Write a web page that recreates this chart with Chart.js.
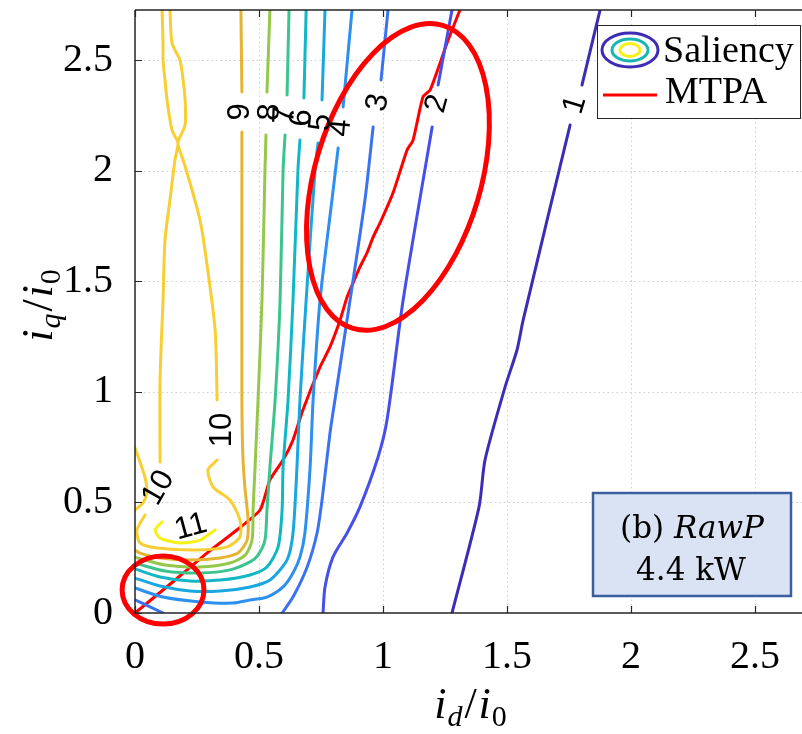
<!DOCTYPE html>
<html>
<head>
<meta charset="utf-8">
<script src="https://cdn.jsdelivr.net/npm/chart.js@4.4.0/dist/chart.umd.min.js"></script>
<style>
  html, body { margin: 0; padding: 0; background: #fff; }
  canvas { display: block; }
</style>
</head>
<body>
<canvas id="salChart" width="802" height="734"></canvas>
<script>
// axis ticks
const xTicks = [0, 0.5, 1, 1.5, 2, 2.5];
const yTicks = [0, 0.5, 1, 1.5, 2, 2.5];

// saliency contour levels (null = gap for a label)
const level1X = [1.278, 1.387, 1.411, 1.492, 1.540, 1.565, 1.754, null, 1.802, 1.875];
const level1Y = [0, 0.48, 0.692, 1.023, 1.19, 1.326, 2.208, null, 2.389, 2.729];

const level2X = [0.758, 0.766, 0.798, 0.855, 0.907, 0.980, 1.016, 1.081, 1.198, null, 1.222, 1.278];
const level2Y = [0, 0.118, 0.253, 0.362, 0.480, 0.706, 0.873, 1.416, 2.199, null, 2.389, 2.729];

const level3X = [1.020, 0.992, null, 0.960, 0.927, 0.867, 0.806, 0.786, 0.754, 0.734, 0.694, 0.637, 0.593];
const level3Y = [2.729, 2.412, null, 2.199, 1.869, 1.416, 0.964, 0.814, 0.511, 0.362, 0.208, 0.072, 0];
const level3bX = [0, 0.113];
const level3bY = [0.059, 0];

const level4X = [0.875, 0.839, null, 0.819, 0.794, 0.746, 0.718, 0.706, 0.685, 0.665, 0.637, 0.597, 0.532, 0.464, 0.395, 0.262, 0.113, 0];
const level4Y = [2.729, 2.290, null, 2.104, 1.869, 1.416, 0.964, 0.661, 0.362, 0.253, 0.181, 0.118, 0.072, 0.059, 0.045, 0.050, 0.072, 0.113];

const level5X = [0.766, 0.754, null, 0.738, 0.726, 0.690, 0.665, 0.653, 0.637, 0.613, 0.544, 0.464, 0.343, 0.222, 0.101, 0];
const level5Y = [2.729, 2.321, null, 2.127, 2.005, 1.416, 0.964, 0.661, 0.362, 0.240, 0.149, 0.118, 0.100, 0.100, 0.122, 0.158];

const level6X = [0.690, 0.681, null, 0.665, 0.657, 0.637, 0.617, 0.597, 0.593, 0.577, 0.532, 0.464, 0.343, 0.222, 0.101, 0];
const level6Y = [2.729, 2.330, null, 2.140, 2.005, 1.416, 0.964, 0.661, 0.466, 0.299, 0.208, 0.172, 0.149, 0.145, 0.163, 0.199];

const level7X = [0.621, 0.613, null, 0.605, 0.597, 0.585, 0.565, 0.544, 0.532, 0.524, 0.496, 0.464, 0.383, 0.262, 0.121, 0];
const level7Y = [2.729, 2.344, null, 2.163, 2.005, 1.416, 0.964, 0.661, 0.466, 0.330, 0.262, 0.231, 0.195, 0.181, 0.190, 0.226];

const level8X = [0.544, 0.532, null, 0.528, 0.524, 0.512, 0.496, 0.484, 0.476, 0.472, 0.444, 0.383, 0.262, 0.121, 0];
const level8Y = [2.729, 2.357, null, 2.163, 2.005, 1.416, 0.964, 0.661, 0.466, 0.330, 0.262, 0.226, 0.208, 0.217, 0.253];

const level9X = [0.427, 0.431, null, 0.431, 0.431, 0.431, 0.435, 0.444, 0.456, 0.452, 0.415, 0.343, 0.222, 0.101, 0.020, 0];
const level9Y = [2.729, 2.357, null, 2.176, 2.005, 0.964, 0.706, 0.557, 0.421, 0.330, 0.271, 0.249, 0.240, 0.249, 0.271, 0.285];

const level10X = [0.109, 0.113, 0.113, 0.121, 0.129, 0.149, 0.173, 0.161, 0.141, 0.121, 0.113, 0.101, 0.101, null,
  0.040, 0.008, 0.020, 0.089, 0.250, 0.371, 0.423, 0.423, 0.383, 0.315, 0.294, 0.331, null,
  0.331, 0.323, 0.282, 0.262, 0.230, 0.194, 0.173, 0.202, 0.202, 0.194, 0.181, 0.149, 0.141];
const level10Y = [2.729, 2.579, 2.502, 2.412, 2.321, 2.186, 2.127, 2.050, 1.869, 1.688, 1.416, 1.054, 0.683, null,
  0.443, 0.376, 0.317, 0.294, 0.285, 0.299, 0.344, 0.421, 0.511, 0.570, 0.647, 0.692, null,
  0.964, 1.281, 1.643, 1.778, 1.914, 2.050, 2.127, 2.208, 2.321, 2.412, 2.502, 2.579, 2.729];
const level10bX = [0, 0.040, 0.048, 0.032, 0];
const level10bY = [0.747, 0.615, 0.543, 0.498, 0.466];

const level11X = [0.109, 0.081, 0.101, 0.181, 0.262, 0.323];
const level11Y = [0.412, 0.376, 0.339, 0.317, 0.330, 0.376];

const levelColors = ['#3d2db5', '#4650e8', '#3b72f2', '#2d8ff0', '#1aa7e0', '#12b7c5',
  '#3cc48f', '#95c84a', '#e5b432', '#f8cf33', '#f6f018'];

// MTPA trajectory
const mtpaX = [0, 0.113, 0.210, 0.290, 0.395, 0.504, 0.544, 0.597, 0.637, 0.677, 0.746, 0.786, 0.827,
  0.855, 0.879, 0.907, 0.935, 0.960, 0.988, 1.040, 1.097, 1.121, 1.161, 1.190, 1.258, 1.310];
const mtpaY = [0, 0.104, 0.195, 0.271, 0.362, 0.466, 0.602, 0.692, 0.783, 0.919, 1.113, 1.204, 1.326,
  1.430, 1.493, 1.566, 1.629, 1.701, 1.765, 1.900, 2.095, 2.140, 2.335, 2.367, 2.579, 2.729];

// contour labels
const labelText = ['1', '2', '3', '4', '5', '6', '7', '8', '9', '10', '10', '11'];
const labelX = [1.774, 1.218, 0.980, 0.830, 0.750, 0.673, 0.605, 0.544, 0.427, 0.351, 0.095, 0.225];
const labelY = [2.300, 2.305, 2.310, 2.195, 2.220, 2.240, 2.253, 2.267, 2.267, 0.828, 0.566, 0.389];
const labelAngle = [-73, -75, -80, -85, -85, -87, -88, -88, -90, -90, -60, -15];

// red highlight ellipses (centre, semi-axes in data units, tilt in degrees)
const ringX = [1.06, 0.113];
const ringY = [1.973, 0.104];
const ringRx = [0.335, 0.165];
const ringRy = [0.715, 0.154];
const ringTilt = [16.5, 0];

function pairs(xs, ys) {
    return xs.map((x, i) => ({ x: x === null ? NaN : x, y: ys[i] === null ? NaN : ys[i] }));
}

function contourSet(level, xs, ys) {
    return {
        label: 'Saliency ' + level,
        data: pairs(xs, ys),
        showLine: true,
        borderColor: levelColors[level - 1],
        borderWidth: 3,
        pointRadius: 0,
        tension: 0.25,
        spanGaps: false,
        fill: false
    };
}

const datasets = [
    contourSet(1, level1X, level1Y),
    contourSet(2, level2X, level2Y),
    contourSet(3, level3X, level3Y),
    contourSet(3, level3bX, level3bY),
    contourSet(4, level4X, level4Y),
    contourSet(5, level5X, level5Y),
    contourSet(6, level6X, level6Y),
    contourSet(7, level7X, level7Y),
    contourSet(8, level8X, level8Y),
    contourSet(9, level9X, level9Y),
    contourSet(10, level10X, level10Y),
    contourSet(10, level10bX, level10bY),
    contourSet(11, level11X, level11Y),
    {
        label: 'MTPA',
        data: pairs(mtpaX, mtpaY),
        showLine: true,
        borderColor: '#ff0000',
        borderWidth: 3,
        pointRadius: 0,
        tension: 0.2,
        fill: false
    }
];

// grid + axes box with inward ticks, MATLAB style
const framePlugin = {
    id: 'frame',
    beforeDatasetsDraw(chart) {
        const ctx = chart.ctx;
        const a = chart.chartArea;
        const xs = chart.scales.x, ys = chart.scales.y;
        ctx.save();
        ctx.strokeStyle = '#cfcfcf';
        ctx.lineWidth = 1;
        ctx.setLineDash([1.5, 3]);
        xTicks.forEach(v => {
            if (v === 0) return;
            const px = Math.round(xs.getPixelForValue(v)) + 0.5;
            ctx.beginPath(); ctx.moveTo(px, a.top); ctx.lineTo(px, a.bottom); ctx.stroke();
        });
        yTicks.forEach(v => {
            if (v === 0) return;
            const py = Math.round(ys.getPixelForValue(v)) + 0.5;
            ctx.beginPath(); ctx.moveTo(a.left, py); ctx.lineTo(a.right, py); ctx.stroke();
        });
        ctx.restore();
    },
    afterDatasetsDraw(chart) {
        const ctx = chart.ctx;
        const a = chart.chartArea;
        const xs = chart.scales.x, ys = chart.scales.y;

        // red rings
        ctx.save();
        ctx.strokeStyle = '#ff0000';
        ctx.lineWidth = 5;
        ringX.forEach((cx, i) => {
            const px = xs.getPixelForValue(cx);
            const py = ys.getPixelForValue(ringY[i]);
            const rx = xs.getPixelForValue(ringRx[i]) - xs.getPixelForValue(0);
            const ry = ys.getPixelForValue(0) - ys.getPixelForValue(ringRy[i]);
            ctx.beginPath();
            ctx.ellipse(px, py, rx, ry, ringTilt[i] * Math.PI / 180, 0, Math.PI * 2);
            ctx.stroke();
        });
        ctx.restore();

        // contour labels
        ctx.save();
        ctx.fillStyle = '#000';
        ctx.font = '31px "Liberation Sans", Arial, sans-serif';
        ctx.textAlign = 'center';
        ctx.textBaseline = 'middle';
        labelText.forEach((t, i) => {
            ctx.save();
            ctx.translate(xs.getPixelForValue(labelX[i]), ys.getPixelForValue(labelY[i]));
            ctx.rotate(labelAngle[i] * Math.PI / 180);
            ctx.fillText(t, 0, 0);
            ctx.restore();
        });
        ctx.restore();

        // axes lines and inward ticks
        ctx.save();
        ctx.strokeStyle = '#262626';
        ctx.lineWidth = 1.5;
        ctx.beginPath();
        ctx.moveTo(a.left, a.top); ctx.lineTo(a.left, a.bottom); ctx.lineTo(a.right, a.bottom);
        ctx.moveTo(a.left, a.top); ctx.lineTo(a.right, a.top);
        ctx.stroke();
        ctx.lineWidth = 1.2;
        ctx.beginPath();
        xTicks.forEach(v => {
            const px = Math.round(xs.getPixelForValue(v)) + 0.5;
            ctx.moveTo(px, a.bottom); ctx.lineTo(px, a.bottom - 7);
            ctx.moveTo(px, a.top); ctx.lineTo(px, a.top + 7);
        });
        yTicks.forEach(v => {
            const py = Math.round(ys.getPixelForValue(v)) + 0.5;
            ctx.moveTo(a.left, py); ctx.lineTo(a.left + 7, py);
        });
        ctx.stroke();
        ctx.restore();
    },
    afterDraw(chart) {
        const ctx = chart.ctx;
        const a = chart.chartArea;

        // legend box
        const lx = a.right - 205, ly = a.top + 15;
        ctx.save();
        ctx.fillStyle = '#fff';
        ctx.fillRect(lx, ly, 203, 93);
        ctx.strokeStyle = '#262626';
        ctx.lineWidth = 1;
        ctx.strokeRect(lx + 0.5, ly + 0.5, 203, 93);
        ctx.lineWidth = 3;
        [[28, 17, levelColors[0]], [18, 11, '#19b6b0'], [10, 6.5, '#f6f018']].forEach(e => {
            ctx.strokeStyle = e[2];
            ctx.beginPath();
            ctx.ellipse(lx + 33, ly + 25, e[0], e[1], 0, 0, Math.PI * 2);
            ctx.stroke();
        });
        ctx.strokeStyle = '#ff0000';
        ctx.lineWidth = 3;
        ctx.beginPath(); ctx.moveTo(lx + 6, ly + 70); ctx.lineTo(lx + 60, ly + 70); ctx.stroke();
        ctx.fillStyle = '#000';
        ctx.font = '38px "Liberation Serif", "Times New Roman", serif';
        ctx.textBaseline = 'alphabetic';
        ctx.fillText('Saliency', lx + 66, ly + 37);
        ctx.fillText('MTPA', lx + 68, ly + 78);
        ctx.restore();

        // info box
        const bx = a.right - 209, by = a.bottom - 120;
        ctx.save();
        ctx.fillStyle = '#dae3f3';
        ctx.fillRect(bx, by, 198, 103);
        ctx.strokeStyle = '#3a5f9e';
        ctx.lineWidth = 2.5;
        ctx.strokeRect(bx, by, 198, 103);
        ctx.fillStyle = '#000';
        ctx.textBaseline = 'alphabetic';
        const f1 = '31px "DejaVu Serif", serif';
        const f1i = 'italic 31px "DejaVu Serif", serif';
        ctx.font = f1;
        const w1 = ctx.measureText('(b) ').width;
        ctx.font = f1i;
        const w2 = ctx.measureText('RawP').width;
        const sx = bx + 99 - (w1 + w2) / 2;
        ctx.font = f1;
        ctx.fillText('(b) ', sx, by + 45);
        ctx.font = f1i;
        ctx.fillText('RawP', sx + w1, by + 45);
        ctx.font = '31px "DejaVu Serif", serif';
        ctx.textAlign = 'center';
        ctx.fillText('4.4 kW', bx + 98, by + 87);
        ctx.restore();

        // axis titles
        drawMathLabel(ctx, 'd', (a.left + a.right) / 2 + 2, 718, 0);
        drawMathLabel(ctx, 'q', 52, (a.top + a.bottom) / 2 - 6, -Math.PI / 2);
    }
};

function drawMathLabel(ctx, sub, cx, cy, rot) {
    const big = 'italic 44px "Liberation Serif", "Times New Roman", serif';
    const small = 'italic 30px "Liberation Serif", "Times New Roman", serif';
    const smallUp = '30px "Liberation Serif", "Times New Roman", serif';
    const parts = [
        { t: 'i', f: big, dy: 0, gap: 1 },
        { t: sub, f: small, dy: 8, gap: 2 },
        { t: '/', f: '44px "Liberation Serif", serif', dy: 0, gap: 2 },
        { t: 'i', f: big, dy: 0, gap: 1 },
        { t: '0', f: smallUp, dy: 8, gap: 0 }
    ];
    ctx.save();
    ctx.translate(cx, cy);
    ctx.rotate(rot);
    let total = 0;
    parts.forEach(p => { ctx.font = p.f; p.w = ctx.measureText(p.t).width; total += p.w + p.gap; });
    let x = -total / 2;
    ctx.fillStyle = '#000';
    ctx.textBaseline = 'alphabetic';
    parts.forEach(p => {
        ctx.font = p.f;
        ctx.fillText(p.t, x, p.dy);
        x += p.w + p.gap;
    });
    ctx.restore();
}

const tickFont = { family: '"Liberation Serif", "Times New Roman", serif', size: 40 };

new Chart(document.getElementById('salChart').getContext('2d'), {
    type: 'scatter',
    data: { datasets: datasets },
    options: {
        responsive: false,
        animation: false,
        devicePixelRatio: 1,
        layout: { padding: { top: 10, left: 0, right: 0, bottom: 0 } },
        plugins: {
            legend: { display: false },
            tooltip: { enabled: false }
        },
        elements: { line: { borderCapStyle: 'round', borderJoinStyle: 'round' } },
        scales: {
            x: {
                type: 'linear',
                min: 0,
                max: 2.689,
                afterBuildTicks: s => { s.ticks = xTicks.map(v => ({ value: v })); },
                afterFit: s => { s.height = 121; s.paddingLeft = 0; s.paddingRight = 0; },
                grid: { display: false },
                border: { display: false },
                ticks: {
                    font: tickFont,
                    color: '#000',
                    padding: 12,
                    maxRotation: 0,
                    autoSkip: false,
                    callback: v => String(v)
                }
            },
            y: {
                type: 'linear',
                min: 0,
                max: 2.7285,
                afterBuildTicks: s => { s.ticks = yTicks.map(v => ({ value: v })); },
                afterFit: s => { s.width = 135; s.paddingTop = 0; s.paddingBottom = 0; },
                grid: { display: false },
                border: { display: false },
                ticks: {
                    font: tickFont,
                    color: '#000',
                    padding: 14,
                    autoSkip: false,
                    callback: v => String(v)
                }
            }
        }
    },
    plugins: [framePlugin]
});
</script>
</body>
</html>
